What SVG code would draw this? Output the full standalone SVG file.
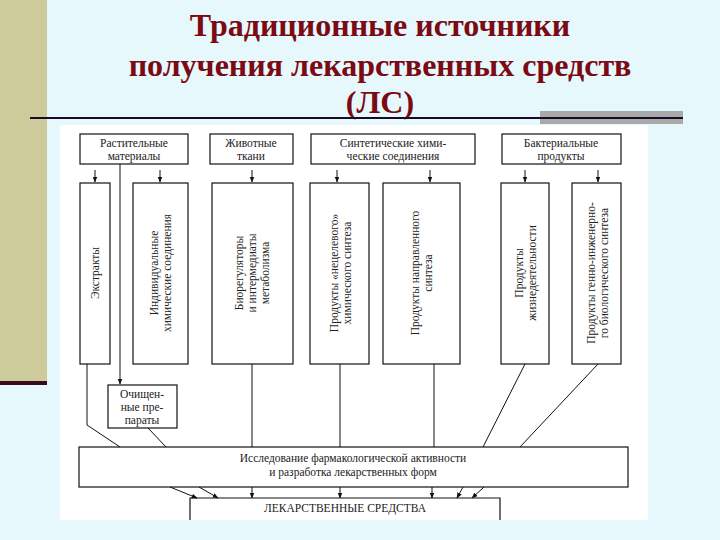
<svg xmlns="http://www.w3.org/2000/svg" width="720" height="540" viewBox="0 0 720 540">
<defs>
<marker id="ar" viewBox="0 0 10 10" refX="9" refY="5" markerWidth="6" markerHeight="6" orient="auto"><path d="M0,1 L10,5 L0,9 z" fill="#111"/></marker>
<style>
.b{fill:#fff;stroke:#111;stroke-width:1.2}
.t{font-family:'Liberation Serif','Times New Roman','DejaVu Serif',serif;font-size:11.5px;fill:#222;text-anchor:middle}
.l{stroke:#111;stroke-width:1;fill:none}
.title{font-family:'Liberation Serif','Times New Roman','DejaVu Serif',serif;font-size:32px;font-weight:bold;fill:#7b0a14;text-anchor:middle}
</style>
</defs>
<rect width="720" height="540" fill="#e6f8fb"/>
<rect x="0" y="0" width="47" height="381" fill="#cdcb9b"/>
<rect x="0" y="381" width="47" height="4" fill="#3a0a1e"/>
<text class="title" x="380" y="36">Традиционные источники</text>
<text class="title" x="380" y="76">получения лекарственных средств</text>
<text class="title" x="380" y="113">(ЛС)</text>
<rect x="540" y="111" width="143" height="13" fill="#a9a9a9"/>
<line x1="30" y1="118" x2="683" y2="118" stroke="#1a0a2a" stroke-width="2"/>
<rect x="60" y="125" width="588" height="395" fill="#fff"/>

<g id="n-rast"><rect class="b" x="80" y="134" width="108" height="30"/><text class="t" x="134" y="147">Растительные</text><text class="t" x="134" y="160">материалы</text></g>
<g id="n-zhiv"><rect class="b" x="210" y="134" width="83" height="30"/><text class="t" x="251" y="147">Животные</text><text class="t" x="251" y="160">ткани</text></g>
<g id="n-sint"><rect class="b" x="311" y="134" width="164" height="30"/><text class="t" x="393" y="147">Синтетические хими-</text><text class="t" x="393" y="160">ческие соединения</text></g>
<g id="n-bakt"><rect class="b" x="502" y="134" width="119" height="30"/><text class="t" x="561" y="147">Бактериальные</text><text class="t" x="561" y="160">продукты</text></g>

<g id="n-ekstr"><rect class="b" x="80" y="183" width="30" height="181"/><text class="t" transform="translate(99,273) rotate(-90)">Экстракты</text></g>
<g id="n-indiv"><rect class="b" x="133" y="183" width="55" height="181"/><text class="t" transform="translate(160,273) rotate(-90)"><tspan x="0" y="-2">Индивидуальные</tspan><tspan x="0" y="11">химические соединения</tspan></text></g>
<g id="n-bioreg"><rect class="b" x="212" y="183" width="81" height="181"/><text class="t" transform="translate(252,273) rotate(-90)"><tspan x="0" y="-9">Биорегуляторы</tspan><tspan x="0" y="4">и интермедиаты</tspan><tspan x="0" y="17">метаболизма</tspan></text></g>
<g id="n-necel"><rect class="b" x="310" y="183" width="59" height="181"/><text class="t" transform="translate(340,273) rotate(-90)"><tspan x="0" y="-2">Продукты «нецелевого»</tspan><tspan x="0" y="11">химического синтеза</tspan></text></g>
<g id="n-napr"><rect class="b" x="383" y="183" width="77" height="181"/><text class="t" transform="translate(421,273) rotate(-90)"><tspan x="0" y="-2">Продукты направленного</tspan><tspan x="0" y="11">синтеза</tspan></text></g>
<g id="n-zhizn"><rect class="b" x="501" y="183" width="48" height="181"/><text class="t" transform="translate(525,273) rotate(-90)"><tspan x="0" y="-2">Продукты</tspan><tspan x="0" y="11">жизнедеятельности</tspan></text></g>
<g id="n-genno"><rect class="b" x="572" y="183" width="49" height="181"/><text class="t" transform="translate(597,273) rotate(-90)"><tspan x="0" y="-2">Продукты генно-инженерно-</tspan><tspan x="0" y="11">го биологического синтеза</tspan></text></g>

<g id="n-ochish"><rect class="b" x="108" y="385" width="69" height="43"/><text class="t" x="142" y="398">Очищен-</text><text class="t" x="142" y="411">ные пре-</text><text class="t" x="142" y="424">параты</text></g>
<g id="n-issl"><rect class="b" x="79" y="447" width="549" height="40"/><text class="t" x="353" y="462">Исследование фармакологической активности</text><text class="t" x="353" y="476">и разработка лекарственных форм</text></g>
<g id="n-ls"><path class="b" d="M190,520 V498 H500 V520"/><text class="t" x="345" y="512">ЛЕКАРСТВЕННЫЕ СРЕДСТВА</text></g>

<g id="connectors">
<line class="l" x1="95" y1="170" x2="95" y2="182" marker-end="url(#ar)"/>
<line class="l" x1="160" y1="170" x2="160" y2="182" marker-end="url(#ar)"/>
<line class="l" x1="252" y1="170" x2="252" y2="182" marker-end="url(#ar)"/>
<line class="l" x1="337" y1="170" x2="337" y2="182" marker-end="url(#ar)"/>
<line class="l" x1="430" y1="170" x2="430" y2="182" marker-end="url(#ar)"/>
<line class="l" x1="525" y1="170" x2="525" y2="182" marker-end="url(#ar)"/>
<line class="l" x1="598" y1="170" x2="598" y2="182" marker-end="url(#ar)"/>
<line class="l" x1="120" y1="164" x2="120" y2="384" marker-end="url(#ar)"/>
<polyline class="l" points="87,364 87,425 120,447"/>
<line class="l" x1="148" y1="428" x2="166" y2="447"/>
<line class="l" x1="252" y1="364" x2="252" y2="447"/>
<line class="l" x1="340" y1="364" x2="340" y2="447"/>
<line class="l" x1="434" y1="364" x2="434" y2="447" stroke-width="1.6"/>
<line class="l" x1="525" y1="364" x2="483" y2="447"/>
<line class="l" x1="598" y1="364" x2="520" y2="447"/>
<line class="l" x1="170" y1="487" x2="197" y2="498" marker-end="url(#ar)"/>
<line class="l" x1="199" y1="487" x2="218" y2="498" marker-end="url(#ar)"/>
<line class="l" x1="252" y1="487" x2="252" y2="498" marker-end="url(#ar)"/>
<line class="l" x1="340" y1="487" x2="340" y2="498" stroke-width="1.6" marker-end="url(#ar)"/>
<line class="l" x1="432" y1="487" x2="432" y2="498" marker-end="url(#ar)"/>
<line class="l" x1="463" y1="487" x2="457" y2="498" marker-end="url(#ar)"/>
<line class="l" x1="484" y1="487" x2="472" y2="498" marker-end="url(#ar)"/>
</g>
</svg>
